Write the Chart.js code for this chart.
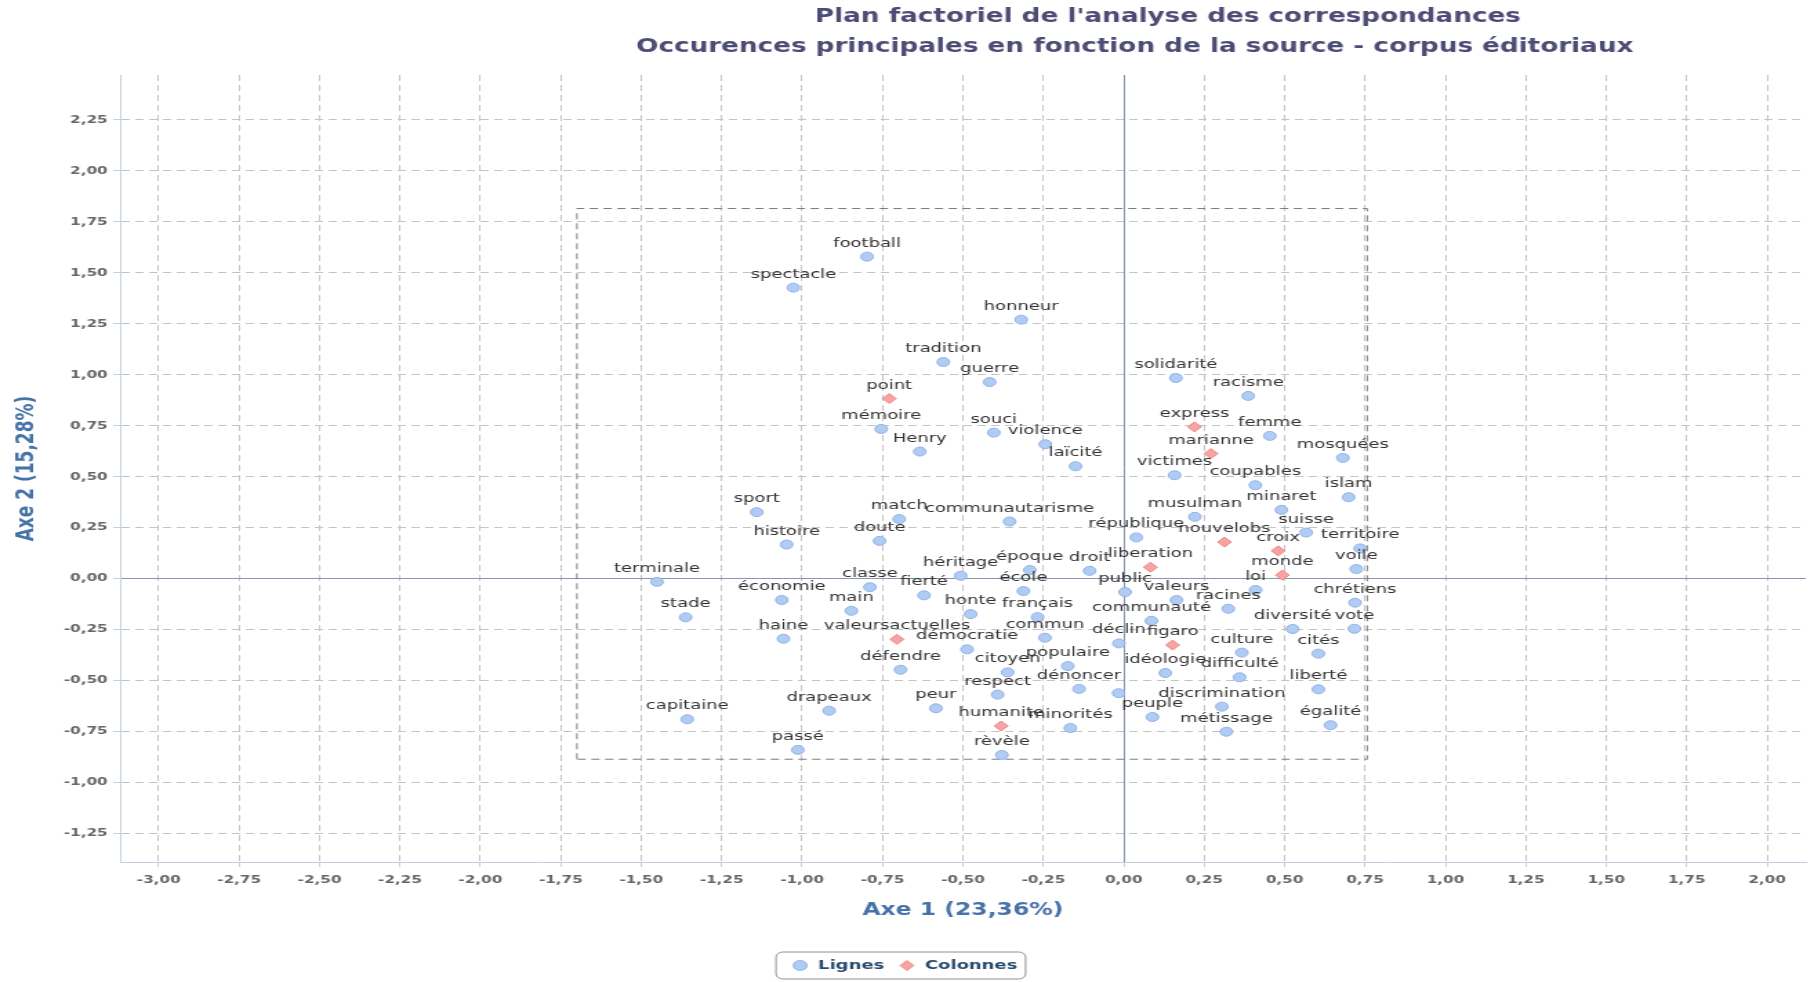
<!DOCTYPE html>
<html>
<head>
<meta charset="utf-8">
<script src="https://cdn.jsdelivr.net/npm/chart.js@4"></script>
<style>
  html, body { margin: 0; padding: 0; background: #fff; overflow: hidden; }
  /* the reference is stretched sideways, so the canvas is drawn narrow and widened */
  #plan { display: block; width: 1814px !important; height: 982px !important; }
</style>
</head>
<body>
<canvas id="plan" width="1314" height="982" style="width:1814px;height:982px"></canvas>
<script>
const titres = [
  "Plan factoriel de l'analyse des correspondances",
  "Occurences principales en fonction de la source - corpus éditoriaux"
]
const titreX = "Axe 1 (23,36%)"
const titreY = "Axe 2 (15,28%)"

// Lignes (mots)
const lignesMots = [
  "football", "spectacle", "honneur", "tradition", "guerre", "solidarité", "racisme",
  "mémoire", "souci", "violence", "Henry", "femme", "mosquées", "laïcité", "victimes",
  "coupables", "islam", "sport", "match", "communautarisme", "musulman", "minaret",
  "histoire", "doute", "république", "suisse", "territoire", "terminale", "héritage",
  "époque", "droit", "voile", "classe", "fierté", "école", "public", "valeurs", "loi",
  "chrétiens", "économie", "main", "honte", "racines", "stade", "français", "communauté",
  "diversité", "vote", "haine", "démocratie", "commun", "déclin", "culture", "cités",
  "défendre", "citoyen", "populaire", "idéologie", "difficulté", "respect", "dénoncer",
  null, "liberté", "drapeaux", "peur", "discrimination", "capitaine", "peuple",
  "minorités", "égalité", "métissage", "passé", "rèvèle"
]
const lignesX = [
  -0.798, -1.027, -0.319, -0.561, -0.417, 0.162, 0.387,
  -0.754, -0.404, -0.244, -0.634, 0.454, 0.681, -0.150, 0.158,
  0.409, 0.699, -1.141, -0.698, -0.355, 0.221, 0.490,
  -1.048, -0.759, 0.039, 0.567, 0.735, -1.451, -0.507,
  -0.292, -0.106, 0.723, -0.789, -0.621, -0.312, 0.004, 0.164, 0.410,
  0.719, -1.063, -0.847, -0.476, 0.325, -1.362, -0.268, 0.086,
  0.525, 0.717, -1.058, -0.487, -0.245, -0.015, 0.367, 0.605,
  -0.694, -0.361, -0.174, 0.129, 0.360, -0.392, -0.139,
  -0.016, 0.605, -0.916, -0.584, 0.305, -1.357, 0.089,
  -0.166, 0.643, 0.319, -1.013, -0.379
]
const lignesY = [
  1.579, 1.427, 1.270, 1.062, 0.964, 0.984, 0.896,
  0.734, 0.716, 0.659, 0.623, 0.700, 0.592, 0.551, 0.507,
  0.458, 0.399, 0.326, 0.292, 0.280, 0.303, 0.337,
  0.167, 0.185, 0.202, 0.226, 0.148, -0.016, 0.014,
  0.042, 0.038, 0.047, -0.042, -0.082, -0.061, -0.066, -0.105, -0.056,
  -0.118, -0.105, -0.158, -0.174, -0.148, -0.190, -0.189, -0.207,
  -0.247, -0.246, -0.295, -0.347, -0.290, -0.318, -0.363, -0.368,
  -0.447, -0.460, -0.429, -0.463, -0.484, -0.569, -0.541,
  -0.562, -0.543, -0.648, -0.636, -0.628, -0.690, -0.679,
  -0.733, -0.719, -0.751, -0.840, -0.865
]

// Colonnes (sources)
const colonnesMots = [
  "point", "express", "marianne", "nouvelobs", "croix", "liberation", "monde",
  "valeursactuelles", "figaro", "humanite"
]
const colonnesX = [-0.729, 0.220, 0.271, 0.313, 0.480, 0.083, 0.493, -0.705, 0.152, -0.381]
const colonnesY = [0.883, 0.744, 0.613, 0.179, 0.136, 0.056, 0.017, -0.298, -0.326, -0.723]

// dashed frame
const cadreX = [-1.70, 0.757]
const cadreY = [-0.886, 1.815]

const axeX = { min: -3.12, max: 2.12 }
const axeY = { min: -1.39, max: 2.47 }

const points = (xs, ys) => xs.map((x, i) => ({ x: x, y: ys[i] }))
const formatTick = (v) => v.toFixed(2).replace(".", ",")

const etiquettes = {
  id: "etiquettes",
  afterDatasetsDraw(chart) {
    const ctx = chart.ctx
    ctx.save()
    ctx.font = '13px "DejaVu Sans"'
    ctx.fillStyle = "#333"
    ctx.textAlign = "center"
    ctx.textBaseline = "alphabetic"
    ;[lignesMots, colonnesMots].forEach((mots, d) => {
      chart.getDatasetMeta(d).data.forEach((pt, i) => {
        if (mots[i]) ctx.fillText(mots[i], pt.x, pt.y - 10)
      })
    })
    ctx.restore()
  },
}

const decor = {
  id: "decor",
  afterDraw(chart) {
    const ctx = chart.ctx
    ctx.save()
    ctx.font = 'bold 19px "DejaVu Sans"'
    ctx.fillStyle = "#4c4c74"
    ctx.textAlign = "center"
    ctx.textBaseline = "middle"
    ctx.fillText(titres[0], 846, 17)
    ctx.fillText(titres[1], 822, 47)

    // rounded box round the legend
    const boxes = chart.legend.legendHitBoxes
    if (boxes.length) {
      const last = boxes[boxes.length - 1]
      const l = boxes[0].left - 11
      const r = last.left + last.width + 6
      const t = boxes[0].top - 7
      const b = boxes[0].top + boxes[0].height + 7
      ctx.strokeStyle = "#909090"
      ctx.lineWidth = 1
      ctx.beginPath()
      ctx.roundRect(l, t, r - l, b - t, 5)
      ctx.stroke()
    }
    ctx.restore()
  },
}

Chart.defaults.font.family = '"DejaVu Sans", sans-serif'

const gridColor = (c) => (c.tick && c.tick.value === 0 ? "#8596ad" : "#c4c4c4")
const gridDash = (c) => (c.tick && c.tick.value === 0 ? [] : [6, 4])
const tickFont = { size: 11, weight: "bold" }

new Chart(document.getElementById("plan"), {
  type: "scatter",
  data: {
    datasets: [
      {
        label: "Lignes",
        data: points(lignesX, lignesY),
        pointStyle: "circle",
        pointRadius: 4.5,
        pointBorderWidth: 1,
        backgroundColor: "#b1ccf2",
        borderColor: "#8fb2ea",
        order: 1,
      },
      {
        label: "Colonnes",
        data: points(colonnesX, colonnesY),
        pointStyle: "rectRot",
        pointRadius: 5,
        pointBorderWidth: 1,
        backgroundColor: "#f7a3a3",
        borderColor: "#ef8585",
        order: 0,
      },
      {
        type: "line",
        label: "cadre",
        data: [
          { x: cadreX[0], y: cadreY[0] },
          { x: cadreX[0], y: cadreY[1] },
          { x: cadreX[1], y: cadreY[1] },
          { x: cadreX[1], y: cadreY[0] },
          { x: cadreX[0], y: cadreY[0] },
        ],
        borderColor: "#7a7a7a",
        borderWidth: 1,
        borderDash: [6, 4],
        pointRadius: 0,
        fill: false,
        order: 2,
      },
    ],
  },
  options: {
    responsive: false,
    devicePixelRatio: 1,
    animation: false,
    layout: { padding: { top: 75, right: 4, left: 0, bottom: 0 } },
    scales: {
      x: {
        type: "linear",
        min: axeX.min,
        max: axeX.max,
        ticks: {
          stepSize: 0.25,
          includeBounds: false,
          autoSkip: false,
          maxRotation: 0,
          padding: 7,
          color: "#666",
          font: tickFont,
          callback: formatTick,
        },
        grid: { color: gridColor, tickColor: "#c0d0e0", tickLength: 5 },
        border: { color: "#c0d0e0", dash: gridDash },
        title: {
          display: true,
          text: titreX,
          color: "#4572a7",
          font: { size: 17, weight: "bold" },
          padding: { top: 4, bottom: 28 },
        },
        afterFit: (s) => {
          s.height = 982 - 862 - s.chart.legend.height
        },
      },
      y: {
        type: "linear",
        min: axeY.min,
        max: axeY.max,
        ticks: {
          stepSize: 0.25,
          includeBounds: false,
          padding: 4,
          color: "#666",
          font: tickFont,
          callback: formatTick,
        },
        grid: { color: gridColor, tickColor: "#c0d0e0", tickLength: 5 },
        border: { color: "#c0d0e0", dash: gridDash },
        title: {
          display: true,
          text: titreY,
          color: "#4572a7",
          font: { size: 17, weight: "bold" },
          padding: { top: 9, bottom: 0 },
        },
        afterFit: (s) => {
          s.width = 87
        },
      },
    },
    plugins: {
      title: { display: false },
      tooltip: { enabled: false },
      legend: {
        position: "bottom",
        labels: {
          usePointStyle: true,
          boxHeight: 7,
          padding: 10,
          color: "#274b6d",
          font: { size: 13, weight: "bold" },
          filter: (item) => item.datasetIndex < 2,
          sort: (a, b) => a.datasetIndex - b.datasetIndex,
        },
      },
    },
  },
  plugins: [etiquettes, decor],
})
</script>
</body>
</html>
